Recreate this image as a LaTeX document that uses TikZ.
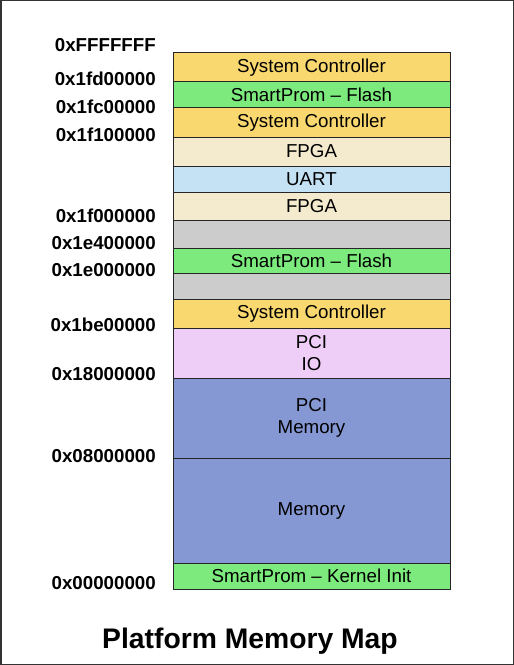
\documentclass[tikz,border=0pt]{standalone}
\usepackage{fontspec}
\setmainfont{Liberation Sans}

\definecolor{sysctl}{RGB}{250,216,112}
\definecolor{flash}{RGB}{124,234,124}
\definecolor{fpga}{RGB}{244,234,206}
\definecolor{uart}{RGB}{196,226,244}
\definecolor{hole}{RGB}{204,204,204}
\definecolor{pciio}{RGB}{238,206,246}
\definecolor{mem}{RGB}{134,152,212}

\tikzset{
  region/.style={draw=black!85, line width=1bp, rectangle, inner sep=0pt,
    minimum width=277bp, align=center,
    font=\fontsize{18.8}{22}\selectfont},
  addr/.style={anchor=east, inner sep=0pt, font=\bfseries\fontsize{18.8}{20}\selectfont},
  maptitle/.style={inner sep=0pt, font=\bfseries\fontsize{28.4}{30}\selectfont}
}

\begin{document}
\begin{tikzpicture}[x=1bp,y=-1bp]

          \useasboundingbox (0,0) rectangle (514,665);
          \draw[line width=1.5bp, black!80] (0.75,0.75) rectangle (513.25,664.25);

          % memory regions, top to bottom
          \foreach \t/\b/\c/\txt [count=\i] in {
            53/82/sysctl/{System Controller},
            82/108/flash/{SmartProm -- Flash},
            108/137/sysctl/{System Controller},
            137/166/fpga/{FPGA},
            166/192/uart/{UART},
            192/220/fpga/{FPGA},
            220/248/hole/{},
            248/273/flash/{SmartProm -- Flash},
            273/299/hole/{},
            299/328/sysctl/{System Controller},
            328/378/pciio/{PCI\\IO},
            378/458/mem/{PCI\\Memory},
            458/563/mem/{Memory},
            563/589/flash/{SmartProm -- Kernel Init}}{
            \node[region, fill=\c, minimum height=(\b-\t)*1bp] (reg\i) at (311.5,{(\t+\b)/2}) {\txt};
          }

          % addresses
          \foreach \y/\txt [count=\i] in {
            45/0xFFFFFFF, 79/0x1fd00000, 107/0x1fc00000, 135/0x1f100000,
            216/0x1f000000, 243/0x1e400000, 270/0x1e000000, 325/0x1be00000,
            374/0x18000000, 456/0x08000000, 583/0x00000000}{
            \node[addr] (addr\i) at (156,\y) {\txt};
          }

          \node[maptitle] (title) at (250,641) {Platform Memory Map};
        \end{tikzpicture}
\end{document}
